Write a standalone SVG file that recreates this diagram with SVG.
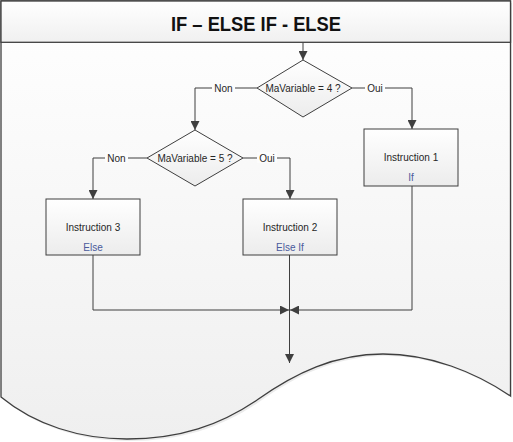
<svg xmlns="http://www.w3.org/2000/svg" width="513" height="442" viewBox="0 0 513 442">
<defs>
<linearGradient id="pg" x1="0" y1="0" x2="0" y2="1"><stop offset="0" stop-color="#ffffff"/><stop offset="1" stop-color="#efefef"/></linearGradient>
<linearGradient id="hd" x1="0" y1="0" x2="0" y2="1"><stop offset="0" stop-color="#ffffff"/><stop offset="1" stop-color="#f0f0f0"/></linearGradient>
<linearGradient id="bx" x1="0" y1="0" x2="0" y2="1"><stop offset="0" stop-color="#ffffff"/><stop offset="1" stop-color="#ececec"/></linearGradient>
<marker id="ar" viewBox="0 0 10 10" refX="10" refY="5" markerWidth="9" markerHeight="9" markerUnits="userSpaceOnUse" orient="auto"><path d="M0,0 L10,5 L0,10 Z" fill="#3f3f3f"/></marker>
<style>
.ln{fill:none;stroke:#3f3f3f;stroke-width:1}
.box{fill:url(#bx);stroke:#3f3f3f;stroke-width:1}
.t{font-family:"Liberation Sans",Arial,sans-serif;font-size:10px;fill:#262626;text-anchor:middle}
.b{fill:#4a5a9c}
.lb{fill:#fcfcfc}
</style>
</defs>
<g id="page">
<path d="M3,3 H512 V398 C477,374 432,356 385,356 C337,356 297,375 259,402 C222,427 182,441 129,441 C82,441 37,427 3,399 Z" fill="#d8d8d8" opacity="0.5"/>
<path d="M1,1 H510.5 V396 C475,372 430,354 383,354 C335,354 295,373 257,400 C220,425 180,439 127,439 C80,439 35,425 1,397 Z" fill="url(#pg)" stroke="#3f3f3f" stroke-width="1.3"/>
<rect x="1" y="1" width="509.5" height="41.3" fill="url(#hd)" stroke="#3f3f3f" stroke-width="1.3"/>
<text x="256" y="31" font-family="'Liberation Sans',Arial,sans-serif" font-weight="bold" font-size="20" fill="#111" text-anchor="middle" textLength="170" lengthAdjust="spacingAndGlyphs">IF – ELSE IF - ELSE</text>
</g>
<g id="connectors">
<path class="ln" d="M303,42.5 V60" marker-end="url(#ar)"/>
<path class="ln" d="M257,88 H195 V130" marker-end="url(#ar)"/>
<path class="ln" d="M352,88 H412 V129" marker-end="url(#ar)"/>
<path class="ln" d="M147,158 H93 V199" marker-end="url(#ar)"/>
<path class="ln" d="M243,158 H290 V199" marker-end="url(#ar)"/>
<path class="ln" d="M93,255 V310 H289" marker-end="url(#ar)"/>
<path class="ln" d="M412,186 V310 H290" marker-end="url(#ar)"/>
<path class="ln" d="M289.5,255 V363" marker-end="url(#ar)"/>
<rect class="lb" x="212" y="82" width="23" height="11"/>
<text class="t" x="223.5" y="91.5">Non</text>
<rect class="lb" x="365" y="82" width="20" height="11"/>
<text class="t" x="375" y="91.5">Oui</text>
<rect class="lb" x="105" y="152" width="23" height="11"/>
<text class="t" x="116.5" y="161.5">Non</text>
<rect class="lb" x="257" y="152" width="20" height="11"/>
<text class="t" x="267" y="161.5">Oui</text>
</g>
<g id="d1">
<polygon class="box" points="303,60 352,88 303,117 257,88"/>
<text class="t" x="303" y="91.5">MaVariable = 4 ?</text>
</g>
<g id="d2">
<polygon class="box" points="195,130 243,158 195,186 147,158"/>
<text class="t" x="195" y="161.5">MaVariable = 5 ?</text>
</g>
<g id="i1">
<rect class="box" x="364" y="129" width="94" height="57"/>
<text class="t" x="411" y="160.5">Instruction 1</text>
<text class="t b" x="411" y="181">If</text>
</g>
<g id="i2">
<rect class="box" x="243" y="199" width="94" height="56"/>
<text class="t" x="290" y="230.5">Instruction 2</text>
<text class="t b" x="290" y="251">Else If</text>
</g>
<g id="i3">
<rect class="box" x="46" y="199" width="94" height="56"/>
<text class="t" x="93" y="230.5">Instruction 3</text>
<text class="t b" x="93" y="251">Else</text>
</g>
</svg>
